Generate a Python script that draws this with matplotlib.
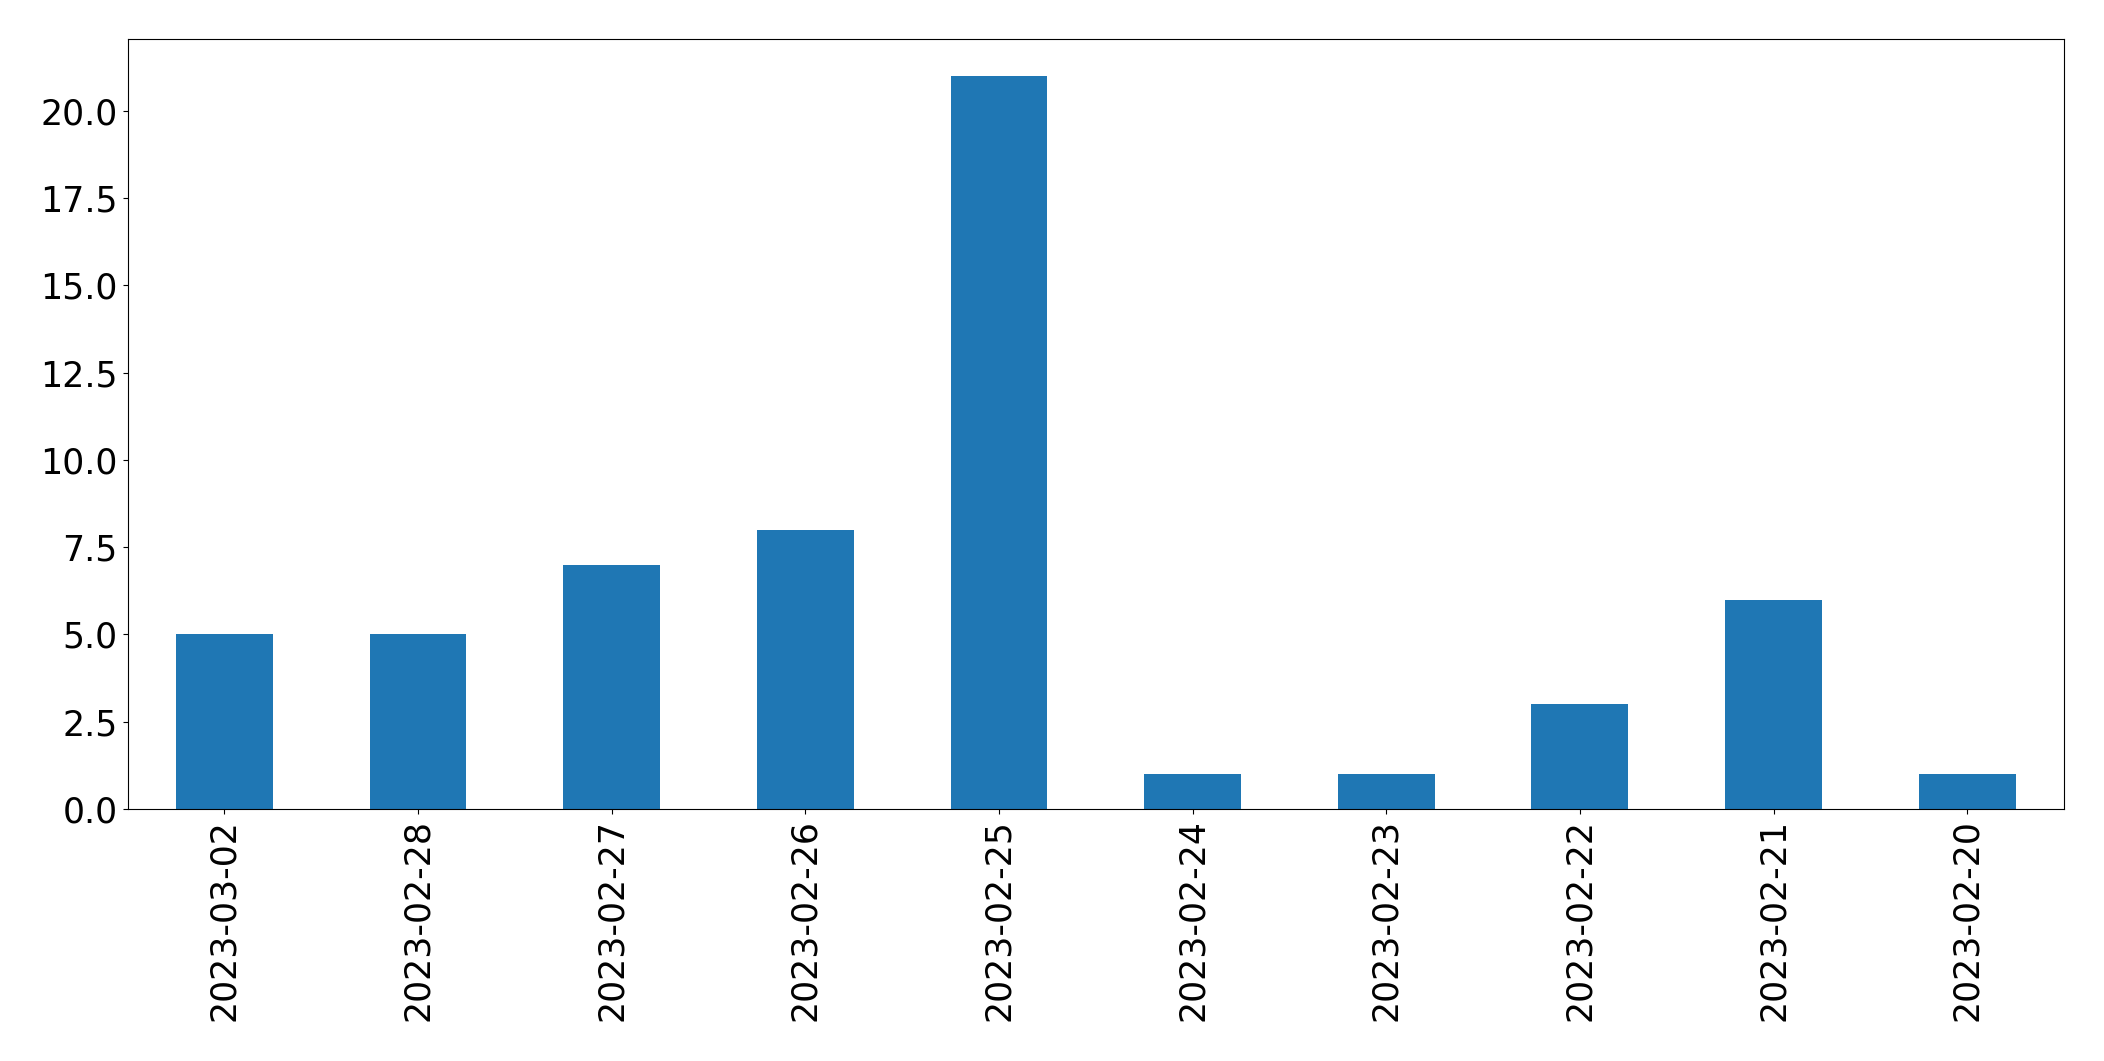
import matplotlib
matplotlib.use("Agg")
import matplotlib.pyplot as plt

dates = ['2023-03-02', '2023-02-28', '2023-02-27', '2023-02-26', '2023-02-25',
         '2023-02-24', '2023-02-23', '2023-02-22', '2023-02-21', '2023-02-20']
counts = [5, 5, 7, 8, 21, 1, 1, 3, 6, 1]

fig, ax = plt.subplots(figsize=(21.04, 10.61), dpi=100)
x = range(len(dates))
ax.bar(x, counts, width=0.5, color='#1f77b4')
ax.set_xticks(list(x))
ax.set_xticklabels(dates, rotation=90, fontsize=25)
ax.tick_params(axis='y', labelsize=25)
ax.set_xlim(-0.5, len(dates) - 0.5)
ax.set_ylim(0, 22.05)
plt.subplots_adjust(left=0.0606, right=0.981, top=0.963, bottom=0.2375)
plt.savefig('out.png')
